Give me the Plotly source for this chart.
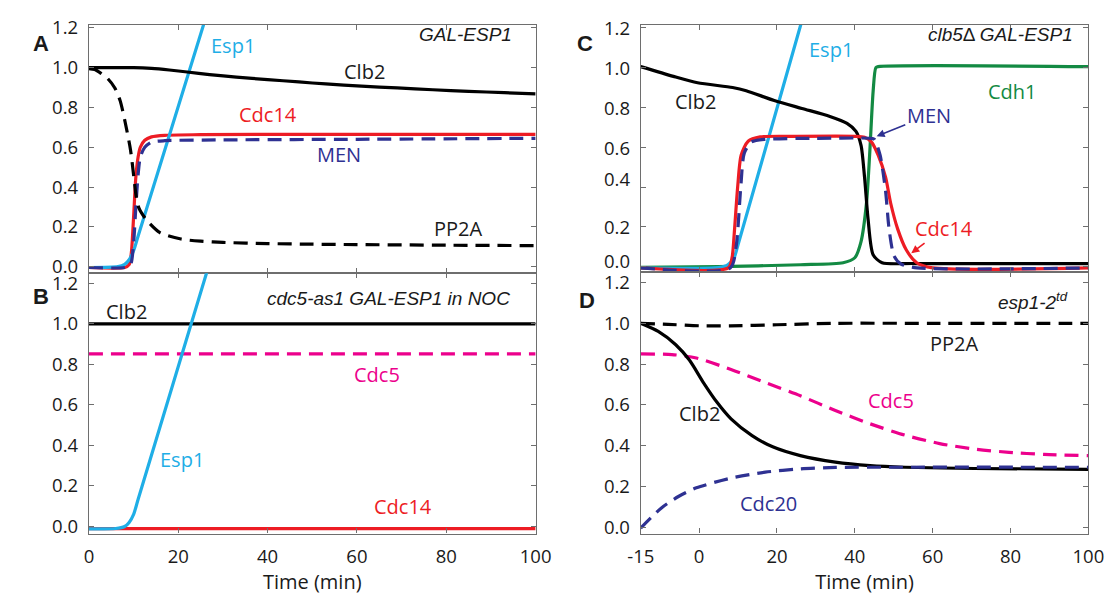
import plotly.graph_objects as go

# ---------------- data ----------------
# Panel A: GAL-ESP1
a_t_clb2 = [0, 5, 10, 14, 18, 22, 27, 33, 40, 47, 53, 61, 69, 77, 85, 93, 100]
a_clb2 = [1.0, 1.0, 1.0, 0.996, 0.988, 0.978, 0.965, 0.952, 0.94, 0.928, 0.918, 0.907, 0.898, 0.889, 0.881, 0.874, 0.868]
a_t_pp2a = [0, 1.3, 2.7, 4.2, 5.8, 7.0, 8.1, 9.3, 10.1, 10.6, 11.2, 12.8, 15.9, 20.6, 25, 30, 40, 50, 60, 80, 100]
a_pp2a = [0.995, 0.99, 0.971, 0.945, 0.898, 0.833, 0.727, 0.588, 0.441, 0.35, 0.294, 0.237, 0.171, 0.139, 0.128, 0.122, 0.116, 0.113, 0.111, 0.108, 0.106]
a_t_cdc14 = [0, 8, 9, 9.5, 10, 10.5, 11, 11.5, 12.5, 14, 17, 25, 50, 100]
a_cdc14 = [-0.004, -0.004, 0.01, 0.07, 0.25, 0.45, 0.55, 0.6, 0.635, 0.652, 0.66, 0.663, 0.665, 0.665]
a_t_men = [0, 8, 9.3, 10, 10.5, 11, 11.5, 12.5, 14, 17, 30, 60, 100]
a_men = [-0.004, -0.004, 0.01, 0.12, 0.3, 0.46, 0.55, 0.6, 0.625, 0.633, 0.637, 0.64, 0.645]
a_t_esp1 = [0, 6.5, 8, 9, 10, 11, 26, 30]
a_esp1 = [-0.004, 0.0, 0.012, 0.035, 0.08, 0.153, 1.24, 1.53]

# Panel B: cdc5-as1 GAL-ESP1 in NOC
b_t_flat = [0, 100]
b_clb2 = [1.0, 1.0]
b_cdc5 = [0.852, 0.852]
b_cdc14 = [-0.01, -0.01]
b_t_esp1 = [0, 6, 8, 9, 10, 11, 27, 30]
b_esp1 = [-0.012, -0.01, 0.0, 0.02, 0.06, 0.133, 1.3, 1.52]

# Panel C: clb5-delta GAL-ESP1
c_t_clb2 = [-15, -6.6, -0.4, 8.6, 12.1, 19.3, 26.4, 33.6, 38, 40.3, 41.6, 42.5, 43.4, 44.7, 47, 55, 100]
c_clb2 = [1.005, 0.956, 0.924, 0.9, 0.884, 0.835, 0.795, 0.755, 0.72, 0.68, 0.61, 0.45, 0.24, 0.06, 0.02, 0.016, 0.016]
c_t_cdh1 = [-15, 5, 26, 37, 40, 41.6, 43, 43.8, 44.7, 45.4, 46, 100]
c_cdh1 = [-0.003, 0.0, 0.01, 0.02, 0.045, 0.126, 0.32, 0.56, 0.88, 1.0, 1.005, 1.005]
c_t_cdc14 = [-15, 7.5, 8.5, 9, 9.9, 10.8, 12.6, 15.7, 25, 40, 42.5, 44.3, 46, 47.9, 49.2, 51, 53.2, 55.9, 60, 100]
c_cdc14 = [-0.006, -0.006, 0.05, 0.16, 0.4, 0.56, 0.63, 0.652, 0.655, 0.655, 0.65, 0.626, 0.56, 0.45, 0.32, 0.19, 0.085, 0.02, -0.006, -0.006]
c_t_men = [-15, 8, 9.5, 10.7, 11.6, 13.4, 17, 30, 44, 45, 46.5, 47.9, 48.8, 50.1, 51.9, 56, 100]
c_men = [-0.006, -0.006, 0.1, 0.4, 0.57, 0.626, 0.64, 0.645, 0.645, 0.64, 0.56, 0.38, 0.19, 0.053, 0.013, -0.006, -0.006]
c_t_esp1 = [-15, 4, 7, 8, 9, 10, 26, 30]
c_esp1 = [-0.006, -0.006, 0.005, 0.02, 0.045, 0.11, 1.208, 1.48]

# Panel D: esp1-2td
d_t_pp2a = [-15, -8, 0, 8, 20, 35, 60, 100]
d_pp2a = [1.0, 0.995, 0.988, 0.988, 0.993, 1.0, 1.0, 1.0]
d_t_clb2 = [-15, -10.5, -6, -2.5, 1.1, 4.6, 8.2, 13.6, 18.9, 26, 35, 43.9, 52.9, 70.7, 100]
d_clb2 = [1.0, 0.96, 0.895, 0.82, 0.71, 0.613, 0.532, 0.45, 0.395, 0.352, 0.32, 0.303, 0.295, 0.289, 0.285]
d_t_cdc5 = [-15, -7, -0.7, 8.2, 17, 26, 35, 43.9, 52.9, 61.8, 70.7, 79.6, 88.6, 100]
d_cdc5 = [0.85, 0.847, 0.83, 0.774, 0.71, 0.645, 0.573, 0.508, 0.452, 0.411, 0.384, 0.368, 0.358, 0.352]
d_t_cdc20 = [-15, -9.6, -5.2, -0.7, 8.2, 17, 26, 35, 50, 100]
d_cdc20 = [-0.003, 0.097, 0.153, 0.194, 0.242, 0.271, 0.287, 0.294, 0.295, 0.295]

y_ticks = [0.0, 0.2, 0.4, 0.6, 0.8, 1.0, 1.2]
left_x_ticks = [0, 20, 40, 60, 80, 100]
right_x_ticks = [-15, 0, 20, 40, 60, 80, 100]
right_x_text = ["-15", "0", "20", "40", "60", "80", "100"]
# vertical positions of the panel C axis labels (two of them sit above their ticks)
c_label_pos = [0.033, 0.2, 0.442, 0.6, 0.8, 1.0, 1.2]

# ---------------- styling ----------------
BLACK = "#000000"
RED = "#ED1C24"
CYAN = "#1FAEE6"
NAVY = "#2E3192"
MAGENTA = "#EC008C"
GREEN = "#138A43"
FRAME = "#6e6e6e"
TEXT = "#1a1a1a"
LABEL_FONT = "Open Sans"
ITAL = "Liberation Sans"
W, H = 1118, 601
DASH = "14px,8px"


def line(x, y, color, dash="solid", ax="", width=3.2):
    return go.Scatter(
        x=x, y=y, mode="lines",
        line=dict(color=color, width=width, dash=dash, shape="spline", smoothing=0.7),
        xaxis="x" + ax, yaxis="y" + ax, showlegend=False, hoverinfo="skip",
    )


fig = go.Figure()
# A
fig.add_trace(line(a_t_cdc14, a_cdc14, RED))
fig.add_trace(line(a_t_esp1, a_esp1, CYAN))
fig.add_trace(line(a_t_men, a_men, NAVY, DASH))
fig.add_trace(line(a_t_pp2a, a_pp2a, BLACK, DASH))
fig.add_trace(line(a_t_clb2, a_clb2, BLACK))
# B
fig.add_trace(line(b_t_flat, b_cdc14, RED, ax="2"))
fig.add_trace(line(b_t_flat, b_cdc5, MAGENTA, DASH, ax="2"))
fig.add_trace(line(b_t_flat, b_clb2, BLACK, ax="2"))
fig.add_trace(line(b_t_esp1, b_esp1, CYAN, ax="2"))
# C
fig.add_trace(line(c_t_cdh1, c_cdh1, GREEN, ax="3"))
fig.add_trace(line(c_t_esp1, c_esp1, CYAN, ax="3"))
fig.add_trace(line(c_t_clb2, c_clb2, BLACK, ax="3"))
fig.add_trace(line(c_t_cdc14, c_cdc14, RED, ax="3"))
fig.add_trace(line(c_t_men, c_men, NAVY, DASH, ax="3"))
# D
fig.add_trace(line(d_t_cdc5, d_cdc5, MAGENTA, DASH, ax="4"))
fig.add_trace(line(d_t_clb2, d_clb2, BLACK, ax="4"))
fig.add_trace(line(d_t_cdc20, d_cdc20, NAVY, DASH, ax="4"))
fig.add_trace(line(d_t_pp2a, d_pp2a, BLACK, DASH, ax="4"))


def px_x(p):
    return p / W


def px_y(p):
    return 1 - p / H


LX = [px_x(77), px_x(536)]
RX = [px_x(644), px_x(1104)]
TOPY = [px_y(270), px_y(15)]
BOTY = [px_y(537), px_y(270)]
TOPY_R = [px_y(269), px_y(15)]
BOTY_R = [px_y(537), px_y(269)]

tick_font = dict(family=LABEL_FONT, size=18.5, color=TEXT)
title_font = dict(family=LABEL_FONT, size=20, color=TEXT)
common = dict(
    showline=True, linecolor=FRAME, linewidth=1.2, mirror="allticks",
    ticks="inside", ticklen=5, tickcolor=FRAME, tickwidth=1,
    showgrid=False, zeroline=False, tickfont=tick_font,
)

fig.update_layout(
    width=W, height=H, margin=dict(l=0, r=0, t=0, b=0),
    paper_bgcolor="white", plot_bgcolor="white",
    xaxis=dict(domain=LX, range=[0, 100], tickvals=left_x_ticks, showticklabels=False, anchor="y", **common),
    yaxis=dict(domain=TOPY, range=[-0.033, 1.216], tickvals=y_ticks, tickformat=".1f", anchor="x",
               ticklabelstandoff=6, **common),
    xaxis2=dict(domain=LX, range=[0, 100], tickvals=left_x_ticks, anchor="y2", ticklabelstandoff=6,
                title=dict(text="Time (min)", font=title_font, standoff=8), **common),
    yaxis2=dict(domain=BOTY, range=[-0.035, 1.25], tickvals=y_ticks, tickformat=".1f", anchor="x2",
                ticklabelstandoff=6, **common),
    xaxis3=dict(domain=RX, range=[-15, 100], tickvals=right_x_ticks, showticklabels=False, anchor="y3", **common),
    yaxis3=dict(domain=TOPY_R, range=[-0.028, 1.216], tickvals=y_ticks, showticklabels=False, anchor="x3", **common),
    xaxis4=dict(domain=RX, range=[-15, 100], tickvals=right_x_ticks, ticktext=right_x_text, anchor="y4",
                ticklabelstandoff=6, title=dict(text="Time (min)", font=title_font, standoff=8), **common),
    yaxis4=dict(domain=BOTY_R, range=[-0.03, 1.25], tickvals=y_ticks, tickformat=".1f", anchor="x4",
                ticklabelstandoff=6, **common),
)

ann = []


def label(text, x, y, color, ax="", size=20, family=LABEL_FONT):
    ann.append(dict(text=text, x=x, y=y, xref="x" + ax, yref="y" + ax, showarrow=False,
                    font=dict(family=family, size=size, color=color)))


def pointer(text, head_x, head_y, text_x, text_y, color, ax):
    ann.append(dict(text=text, x=head_x, y=head_y, xref="x" + ax, yref="y" + ax,
                    ax=text_x, ay=text_y, axref="x" + ax, ayref="y" + ax,
                    showarrow=True, arrowhead=2, arrowsize=1, arrowwidth=1.6, arrowcolor=color,
                    font=dict(family=LABEL_FONT, size=20, color=color)))


# A
label("Esp1", 32.2, 1.113, CYAN)
label("<i>GAL-ESP1</i>", 84.2, 1.167, TEXT, size=19, family=ITAL)
label("Clb2", 61.6, 0.98, TEXT)
label("Cdc14", 40.0, 0.767, RED)
label("MEN", 55.9, 0.563, NAVY)
label("PP2A", 82.7, 0.193, TEXT)
# B
label("<i>cdc5-as1 GAL-ESP1 in NOC</i>", 67.0, 1.125, TEXT, ax="2", size=19, family=ITAL)
label("Clb2", 8.4, 1.06, TEXT, ax="2")
label("Cdc5", 64.5, 0.748, MAGENTA, ax="2")
label("Esp1", 20.9, 0.333, CYAN, ax="2")
label("Cdc14", 70.2, 0.10, RED, ax="2")
# C
label("Esp1", 34.0, 1.09, CYAN, ax="3")
label("<i>clb5</i>Δ <i>GAL-ESP1</i>", 77.5, 1.166, TEXT, ax="3", size=19, family=ITAL)
label("Clb2", -0.8, 0.83, TEXT, ax="3")
label("Cdh1", 80.4, 0.88, GREEN, ax="3")
pointer("MEN", 45.6, 0.655, 59.0, 0.76, NAVY, "3")
pointer("Cdc14", 54.5, 0.068, 63.0, 0.194, RED, "3")
for v, pos in zip(y_ticks, c_label_pos):
    ann.append(dict(text=f"{v:.1f}", x=RX[0] - 9 / W, y=pos, xref="paper", yref="y3", xanchor="right",
                    showarrow=False, font=tick_font))
# D
label("<i>esp1-2</i><sup><i>td</i></sup>", 85.9, 1.11, TEXT, ax="4", size=19, family=ITAL)
label("PP2A", 65.6, 0.903, TEXT, ax="4")
label("Clb2", 0.2, 0.556, TEXT, ax="4")
label("Cdc5", 49.3, 0.62, MAGENTA, ax="4")
label("Cdc20", 17.9, 0.116, NAVY, ax="4")

# panel letters
for letter, xp, yp in [("A", 17, 19), ("B", 17, 294), ("C", 587, 19), ("D", 589, 298)]:
    ann.append(dict(text="<b>" + letter + "</b>", x=px_x(xp), y=px_y(yp), xref="paper", yref="paper",
                    showarrow=False, font=dict(family="Liberation Sans", size=22, color=TEXT)))

fig.update_layout(annotations=ann)
fig.write_html("out.html")
